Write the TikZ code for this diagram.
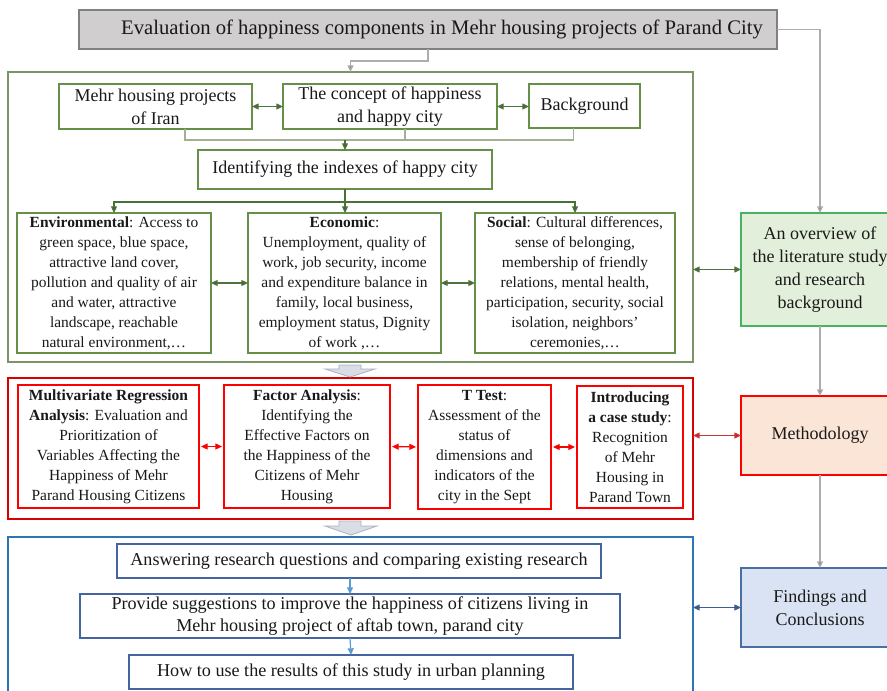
\documentclass[tikz,border=0pt]{standalone}
\usepackage{fontspec}
\setmainfont{Liberation Serif}
\usetikzlibrary{arrows.meta,calc}

\definecolor{gborder}{HTML}{668F48}
\definecolor{gouterc}{HTML}{7B9468}
\definecolor{gdark}{HTML}{3F6B25}
\definecolor{glite}{HTML}{A3B096}
\definecolor{grayln}{HTML}{ADADAD}
\definecolor{grayhd}{HTML}{808080}
\definecolor{titlefill}{HTML}{D0CECE}
\definecolor{ovfill}{HTML}{E2EFDA}
\definecolor{ovborder}{HTML}{47B35F}
\definecolor{methfill}{HTML}{FBE5D6}
\definecolor{findfill}{HTML}{DAE3F3}
\definecolor{findborder}{HTML}{4A6FA5}
\definecolor{bouterc}{HTML}{2E75B6}
\definecolor{binner}{HTML}{4465A0}
\definecolor{blite}{HTML}{5B9BD5}
\definecolor{bdark}{HTML}{2F5597}
\definecolor{blkfill}{HTML}{D9DEE6}
\definecolor{blkline}{HTML}{A9B3C2}

% box from (x1,y1) to (x2,y2), in pixel-like units
\newcommand\bx[7]{%
  \node[#6, minimum width={(#4-#2)*0.75pt}, minimum height={(#5-#3)*0.75pt}]
    (#1) at ({(#2+#4)/2},{(#3+#5)/2}) {#7};}

\tikzset{
  every node/.style={inner sep=0pt, outer sep=0pt, align=center, text=black!90},
  tbig/.style={font=\fontsize{15.5}{18}\selectfont},
  tmid/.style={font=\fontsize{13.5}{17.2}\selectfont},
  tblu/.style={font=\fontsize{13.6}{16.6}\selectfont},
  tsm/.style={font=\fontsize{11.6}{15}\selectfont},
  titlebox/.style={draw=grayhd, fill=titlefill, line width=1.3pt, tbig},
  gouter/.style={draw=gouterc, line width=1.1pt},
  router/.style={draw=red!85!black, line width=1.1pt},
  bouter/.style={draw=bouterc, line width=1.1pt},
  gin/.style={draw=gborder, line width=1.2pt, fill=white},
  rin/.style={draw=red, line width=1.2pt, fill=white},
  bin/.style={draw=binner, line width=1.1pt, fill=white},
  ovbox/.style={draw=ovborder, fill=ovfill, line width=1.2pt},
  methbox/.style={draw=red, fill=methfill, line width=1.2pt},
  findbox/.style={draw=findborder, fill=findfill, line width=1.2pt},
  tip/.style={-{Triangle[length=5pt,width=4.5pt,#1]}},
  dtip/.style={{Triangle[length=5pt,width=4.5pt,#1]}-{Triangle[length=5pt,width=4.5pt,#1]}},
  grayarr/.style={draw=grayln, line width=1pt, tip={fill=grayhd}},
  garr/.style={draw=gdark!80!gray, line width=0.9pt, tip={fill=gdark}},
  gline/.style={draw=glite, line width=0.9pt},
  gdarr/.style={draw=gdark!70!gray, line width=0.9pt, dtip={fill=gdark}},
  rdarr/.style={draw=red, line width=0.9pt, dtip={fill=red}, shorten <=1.5pt, shorten >=1.5pt},
  rbig/.style={draw=red!55!gray, line width=0.9pt, dtip={fill=red}},
  barr/.style={draw=blite, line width=0.9pt, tip={fill=blite}},
  bdarr/.style={draw=bdark!80!gray, line width=0.9pt, dtip={fill=bdark}},
  blk/.style={fill=blkfill, draw=blkline, line width=0.6pt}
}

\begin{document}
\begin{tikzpicture}[x=0.75pt, y=-0.75pt]
\useasboundingbox (0,0) rectangle (887,691);
\clip (0,0) rectangle (887,691);
\fill[white] (0,0) rectangle (887,691);

% outer frames of the three stages
\bx{gbox}{8}{72}{693}{362}{gouter}{}
\bx{rbox}{8}{378}{693}{519}{router}{}
\bx{bbox}{8}{537}{693}{705}{bouter}{}

% title
\bx{title}{79}{10}{777}{49}{titlebox}{\hspace*{21pt}Evaluation of happiness components in Mehr housing projects of Parand City}

% literature stage
\bx{iran}{59}{84}{252}{129}{gin,tmid}{Mehr housing projects\\of Iran}
\bx{concept}{283}{84}{497}{129}{gin,tmid}{The concept of happiness\\and happy city}
\bx{bg}{529}{84}{640}{128}{gin,tmid}{Background}
\bx{ident}{198}{150}{492}{189}{gin,tmid}{Identifying the indexes of happy city}
\bx{env}{17}{213}{211}{353}{gin,tsm}{\textbf{Environmental}: Access to\\green space, blue space,\\attractive land cover,\\pollution and quality of air\\and water, attractive\\landscape, reachable\\natural environment,\dots}
\bx{eco}{248}{213}{441}{353}{gin,tsm}{\textbf{Economic}:\\Unemployment, quality of\\work, job security, income\\and expenditure balance in\\family, local business,\\employment status, Dignity\\of work ,\dots}
\bx{soc}{475}{213}{675}{353}{gin,tsm}{\textbf{Social}: Cultural differences,\\sense of belonging,\\membership of friendly\\relations, mental health,\\participation, security, social\\isolation, neighbors’\\ceremonies,\dots}

% method stage
\bx{mv}{18}{385}{199}{508}{rin,tsm}{\textbf{Multivariate Regression}\\\textbf{Analysis}: Evaluation and\\Prioritization of\\Variables Affecting the\\Happiness of Mehr\\Parand Housing Citizens}
\bx{fa}{224}{385}{390}{508}{rin,tsm}{\textbf{Factor Analysis}:\\Identifying the\\Effective Factors on\\the Happiness of the\\Citizens of Mehr\\Housing}
\bx{tt}{418}{385}{551}{509}{rin,tsm}{\textbf{T Test}:\\Assessment of the\\status of\\dimensions and\\indicators of the\\city in the Sept}
\bx{cs}{577}{386}{683}{508}{rin,tsm}{\textbf{Introducing}\\\textbf{a case study}:\\Recognition\\of Mehr\\Housing in\\Parand Town}

% results stage
\bx{ans}{117}{544}{601}{578}{bin,tblu}{Answering research questions and comparing existing research}
\bx{prov}{80}{594}{620}{638}{bin,tblu}{Provide suggestions to improve the happiness of citizens living in\\Mehr housing project of aftab town, parand city}
\bx{how}{129}{655}{573}{689}{bin,tblu}{How to use the results of this study in urban planning}

% right-hand column
\bx{over}{741}{213}{899}{326}{ovbox,tmid}{An overview of\\the literature study\\and research\\background}
\bx{meth}{741}{396}{899}{475}{methbox,tmid}{Methodology}
\bx{find}{741}{568}{899}{647}{findbox,tmid}{Findings and\\Conclusions}

% main flow
\draw[grayarr] (title.south) -- ++(0,12) -| (gbox.north);
\draw[grayarr] (title.east) -| (over.north);
\draw[grayarr] (over.south) -- (meth.north);
\draw[grayarr] (meth.south) -- (find.north);

% links inside the literature stage
\draw[gdarr] (iran.east) -- (concept.west);
\draw[gdarr] (concept.east) -- (concept.east -| bg.west);
\coordinate (p1) at ($(iran.south west)!0.653!(iran.south east)$);
\coordinate (p2) at ($(concept.south west)!0.57!(concept.south east)$);
\coordinate (p3) at ($(bg.south west)!0.40!(bg.south east)$);
\coordinate (jn) at ($(p1)+(0,11)$);
\draw[gline] (p1) -- (jn) -| (p3);
\draw[gline] (p2) -- (p2 |- jn);
\draw[garr] (ident.north |- jn) -- (ident.north);
\coordinate (sp) at ($(ident.south)+(0,13)$);
\draw[garr] (ident.south) -- (ident.south |- eco.north);
\draw[garr] (sp) -| (env.north);
\draw[garr] (sp) -| (soc.north);
\draw[gdarr] (env.east) -- (eco.west);
\draw[gdarr] (eco.east) -- (soc.west);
\draw[gdarr] (gbox.east |- over.west) -- (over.west);

% links inside the method stage
\draw[rdarr] (mv.east) -- (fa.west);
\draw[rdarr] (fa.east) -- (tt.west);
\draw[rdarr] (tt.east) -- (tt.east -| cs.west);
\draw[rbig] (rbox.east |- meth.west) -- (meth.west);

% links inside the results stage
\draw[barr] (prov.north |- ans.south) -- (prov.north);
\draw[barr] (prov.south) -- (how.north);
\draw[bdarr] (bbox.east |- find.west) -- (find.west);

% block arrows between stages
\draw[blk] (339,365) -- (361,365) -- (361,369) -- (375,369) -- (350,377) -- (325,369) -- (339,369) -- cycle;
\draw[blk] (339,521) -- (361,521) -- (361,526) -- (377,526) -- (351,535) -- (325,526) -- (339,526) -- cycle;
\end{tikzpicture}
\end{document}
